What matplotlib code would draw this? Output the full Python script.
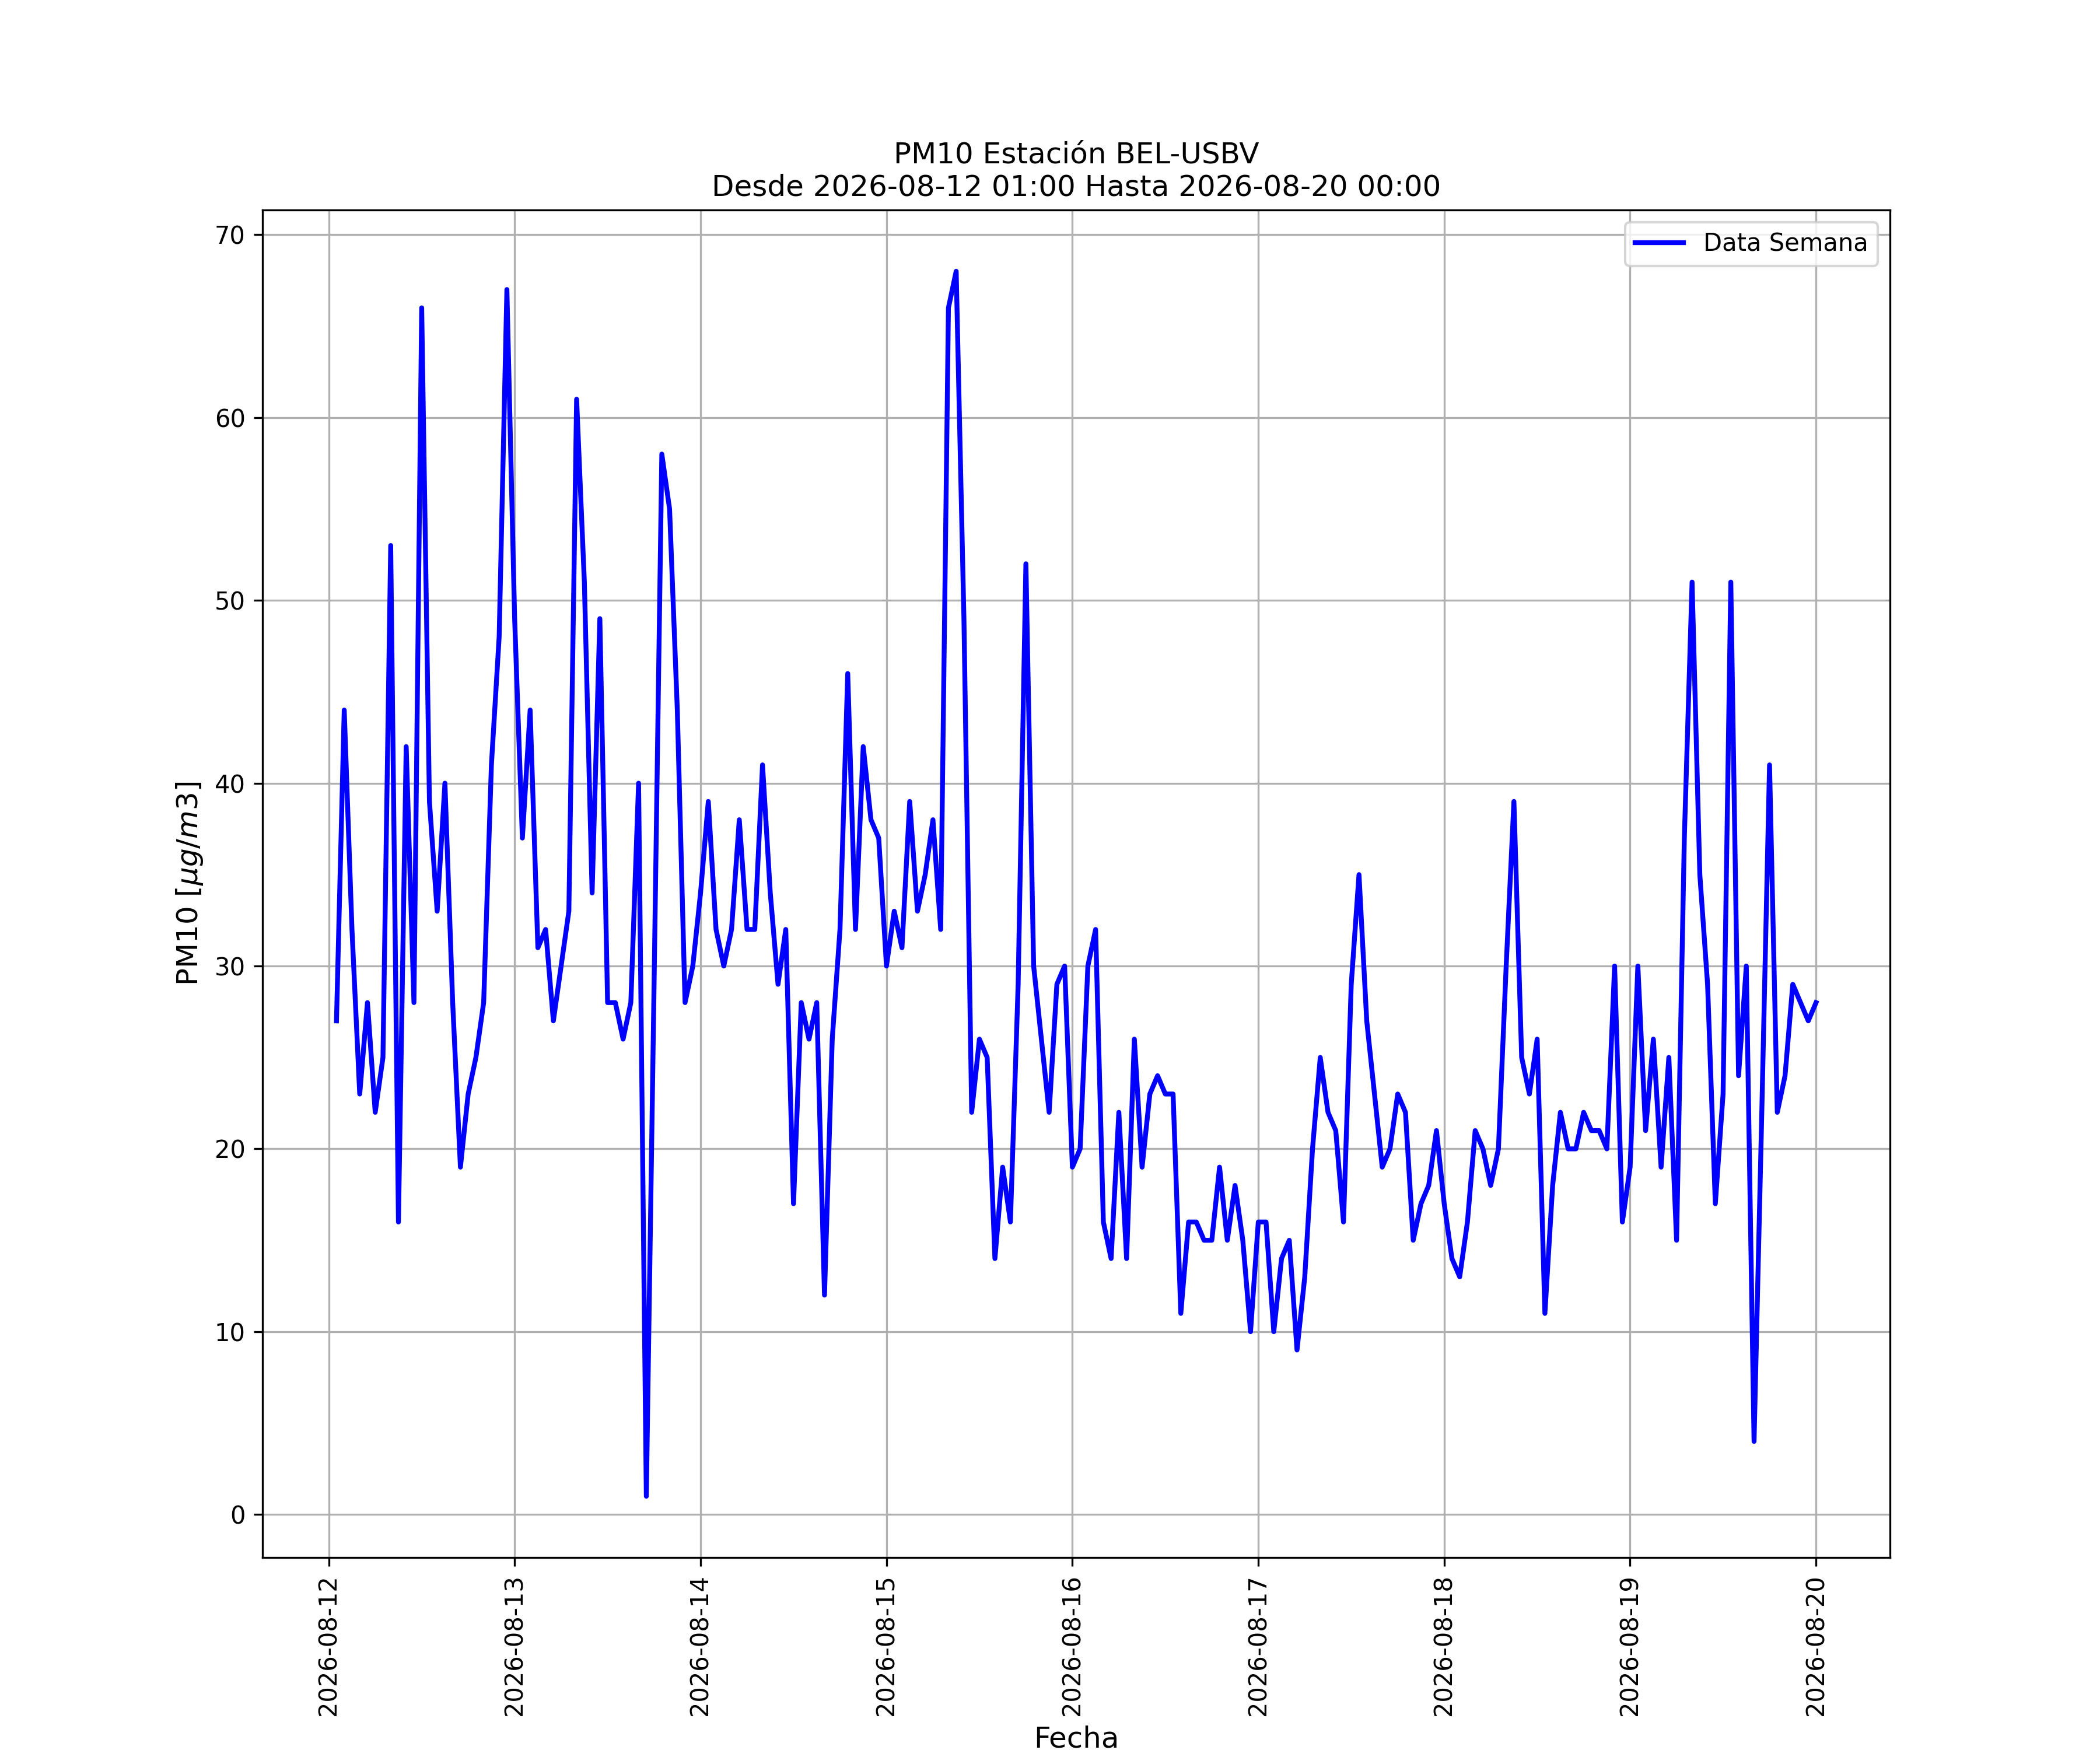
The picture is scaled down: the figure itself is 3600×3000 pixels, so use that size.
import matplotlib
matplotlib.use("Agg")
import matplotlib.pyplot as plt
import matplotlib.dates as mdates
import pandas as pd

# PM10 hourly values, one list per day (01:00 .. 00:00 next day)
dia_12 = [27, 44, 32, 23, 28, 22, 25, 53, 16, 42, 28, 66, 39, 33, 40, 28, 19, 23, 25, 28, 41, 48, 67, 49]
dia_13 = [37, 44, 31, 32, 27, 30, 33, 61, 51, 34, 49, 28, 28, 26, 28, 40, 1, 29, 58, 55, 44, 28, 30, 34]
dia_14 = [39, 32, 30, 32, 38, 32, 32, 41, 34, 29, 32, 17, 28, 26, 28, 12, 26, 32, 46, 32, 42, 38, 37, 30]
dia_15 = [33, 31, 39, 33, 35, 38, 32, 66, 68, 49, 22, 26, 25, 14, 19, 16, 29, 52, 30, 26, 22, 29, 30, 19]
dia_16 = [20, 30, 32, 16, 14, 22, 14, 26, 19, 23, 24, 23, 23, 11, 16, 16, 15, 15, 19, 15, 18, 15, 10, 16]
dia_17 = [16, 10, 14, 15, 9, 13, 20, 25, 22, 21, 16, 29, 35, 27, 23, 19, 20, 23, 22, 15, 17, 18, 21, 17]
dia_18 = [14, 13, 16, 21, 20, 18, 20, 30, 39, 25, 23, 26, 11, 18, 22, 20, 20, 22, 21, 21, 20, 30, 16, 19]
dia_19 = [30, 21, 26, 19, 25, 15, 37, 51, 35, 29, 17, 23, 51, 24, 30, 4, 22, 41, 22, 24, 29, 28, 27, 28]

pm10 = dia_12 + dia_13 + dia_14 + dia_15 + dia_16 + dia_17 + dia_18 + dia_19

inicio = "2026-08-12 01:00"
fin = "2026-08-20 00:00"
fechas = pd.date_range(inicio, fin, freq="h")

fig = plt.figure(figsize=(12, 10), dpi=300)
ax = fig.add_subplot(111)

ax.plot(fechas, pm10, color="blue", linewidth=2, label="Data Semana")

ax.set_title("PM10 Estación BEL-USBV\nDesde " + inicio + " Hasta " + fin, fontsize=12)
ax.set_xlabel("Fecha", fontsize=12)
ax.set_ylabel("PM10 [$\\mu g/m3$]", fontsize=12)

ax.xaxis.set_major_locator(mdates.DayLocator())
ax.xaxis.set_major_formatter(mdates.DateFormatter("%Y-%m-%d"))
plt.setp(ax.get_xticklabels(), rotation=90)

ax.grid(True)
ax.legend(loc="upper right")

fig.savefig("out.png", dpi=300)
